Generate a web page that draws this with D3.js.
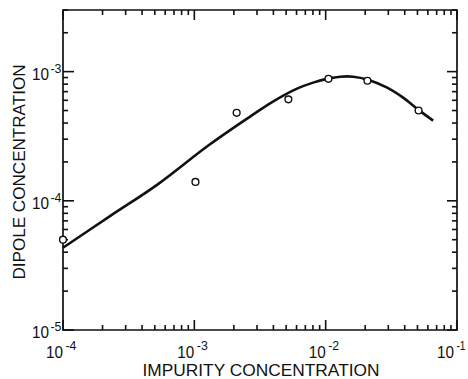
<!DOCTYPE html>
<html><head><meta charset="utf-8">
<script src="https://cdn.jsdelivr.net/npm/d3@7"></script>
<style>
html,body{margin:0;padding:0;background:#fff;}
text{font-family:"Liberation Sans",Arial,sans-serif;fill:#111;}
</style></head>
<body>
<svg id="chart" width="468" height="379"></svg>
<script>
// Measured data points (impurity concentration vs dipole concentration)
const pointX = [1e-4, 1.02e-3, 2.1e-3, 5.2e-3, 1.05e-2, 2.08e-2, 5.1e-2];
const pointY = [5.0e-5, 1.4e-4, 4.8e-4, 6.1e-4, 8.8e-4, 8.5e-4, 5.0e-4];
// Fitted curve samples
const curveX = [1.0e-4, 2.28e-4, 5.20e-4, 1.27e-3, 2.52e-3, 3.97e-3, 6.05e-3, 8.02e-3, 1.04e-2, 1.29e-2, 1.62e-2, 2.10e-2, 2.94e-2, 3.89e-2, 5.06e-2, 6.58e-2];
const curveY = [4.33e-5, 7.62e-5, 1.33e-4, 2.67e-4, 4.33e-4, 5.86e-4, 7.38e-4, 8.22e-4, 8.83e-4, 9.14e-4, 9.14e-4, 8.67e-4, 7.52e-4, 6.29e-4, 5.08e-4, 4.18e-4];
// Tick values and labels
const xMajor = [1e-4, 1e-3, 1e-2, 1e-1];
const minorMult = [2, 3, 4, 5, 6, 7, 8, 9];
const xExp = ["-4", "-3", "-2", "-1"];
const yMajor = [1e-5, 1e-4, 1e-3];
const yExp = ["-5", "-4", "-3"];
const xTitle = "IMPURITY CONCENTRATION";
const yTitle = "DIPOLE CONCENTRATION";

const svg = d3.select("#chart");
const L = 63, R = 457, T = 10, B = 330;
const x = d3.scaleLog().domain([1e-4, 1e-1]).range([L, R]);
const y = d3.scaleLog().domain([1e-5, 3e-3]).range([B, T]);

// Frame
svg.append("path").attr("d", `M${L},${T}H${R}V${B}H${L}Z`)
  .attr("fill", "none").attr("stroke", "#111").attr("stroke-width", 1.7);

const xTicks = [];
xMajor.forEach(m => { xTicks.push({v: m, major: true}); if (m < 1e-1) minorMult.forEach(k => xTicks.push({v: m * k, major: false})); });
const yTicks = [];
yMajor.forEach(m => { yTicks.push({v: m, major: true}); minorMult.forEach(k => { if (m * k <= 3e-3 + 1e-12) yTicks.push({v: m * k, major: false}); }); });

// Ticks (inward)
const tg = svg.append("g");
xTicks.forEach(d => {
  const px = x(d.v), len = d.major ? 10 : 5;
  tg.append("line").attr("x1", px).attr("x2", px).attr("y1", B).attr("y2", B - len)
    .style("stroke", "#111").style("stroke-width", "1.6px");
  tg.append("line").attr("x1", px).attr("x2", px).attr("y1", T).attr("y2", T + len)
    .style("stroke", "#111").style("stroke-width", "1.6px");
});
yTicks.forEach(d => {
  const py = y(d.v);
  tg.append("line").attr("x1", L).attr("x2", L + (d.major ? 11 : 5)).attr("y1", py).attr("y2", py)
    .style("stroke", "#111").style("stroke-width", "1.6px");
  tg.append("line").attr("x1", R).attr("x2", R - (d.major ? 10 : 5)).attr("y1", py).attr("y2", py)
    .style("stroke", "#111").style("stroke-width", "1.6px");
});

// X tick labels
xMajor.forEach((v, i) => {
  const end = Math.min(x(v) + 1, 455);
  svg.append("text").attr("x", end - 18).attr("y", 358)
    .attr("font-size", 16).attr("textLength", 17).attr("lengthAdjust", "spacingAndGlyphs").text("10");
  svg.append("text").attr("x", end + 1.5).attr("y", 350).attr("font-size", 12)
    .attr("textLength", i === 3 ? 9 : 11).attr("lengthAdjust", "spacingAndGlyphs").text(xExp[i]);
});
// Y tick labels
yMajor.forEach((v, i) => {
  const py = y(v);
  svg.append("text").attr("x", 32).attr("y", py + 8)
    .attr("font-size", 16).attr("textLength", 17).attr("lengthAdjust", "spacingAndGlyphs").text("10");
  svg.append("text").attr("x", 50.5).attr("y", py + 1).attr("font-size", 12)
    .attr("textLength", 11).attr("lengthAdjust", "spacingAndGlyphs").text(yExp[i]);
});

// Titles
svg.append("text").attr("x", 261).attr("y", 376).attr("text-anchor", "middle")
  .attr("font-size", 17).attr("textLength", 237).attr("lengthAdjust", "spacingAndGlyphs").text(xTitle);
svg.append("text").attr("transform", "translate(25,172) rotate(-90)").attr("text-anchor", "middle")
  .attr("font-size", 17).attr("textLength", 215).attr("lengthAdjust", "spacingAndGlyphs").text(yTitle);

// Curve
const line = d3.line().x(d => x(d[0])).y(d => y(d[1])).curve(d3.curveCatmullRom.alpha(0.5));
svg.append("path").datum(curveX.map((v, i) => [v, curveY[i]]))
  .attr("d", line).attr("fill", "none").attr("stroke", "#111").attr("stroke-width", 2.6);

// Points
svg.selectAll("circle.pt").data(pointX.map((v, i) => [v, pointY[i]])).enter().append("circle")
  .attr("class", "pt").attr("cx", d => x(d[0])).attr("cy", d => y(d[1])).attr("r", 3.4)
  .attr("fill", "#fff").attr("stroke", "#111").attr("stroke-width", 1.4);
</script>
</body></html>
